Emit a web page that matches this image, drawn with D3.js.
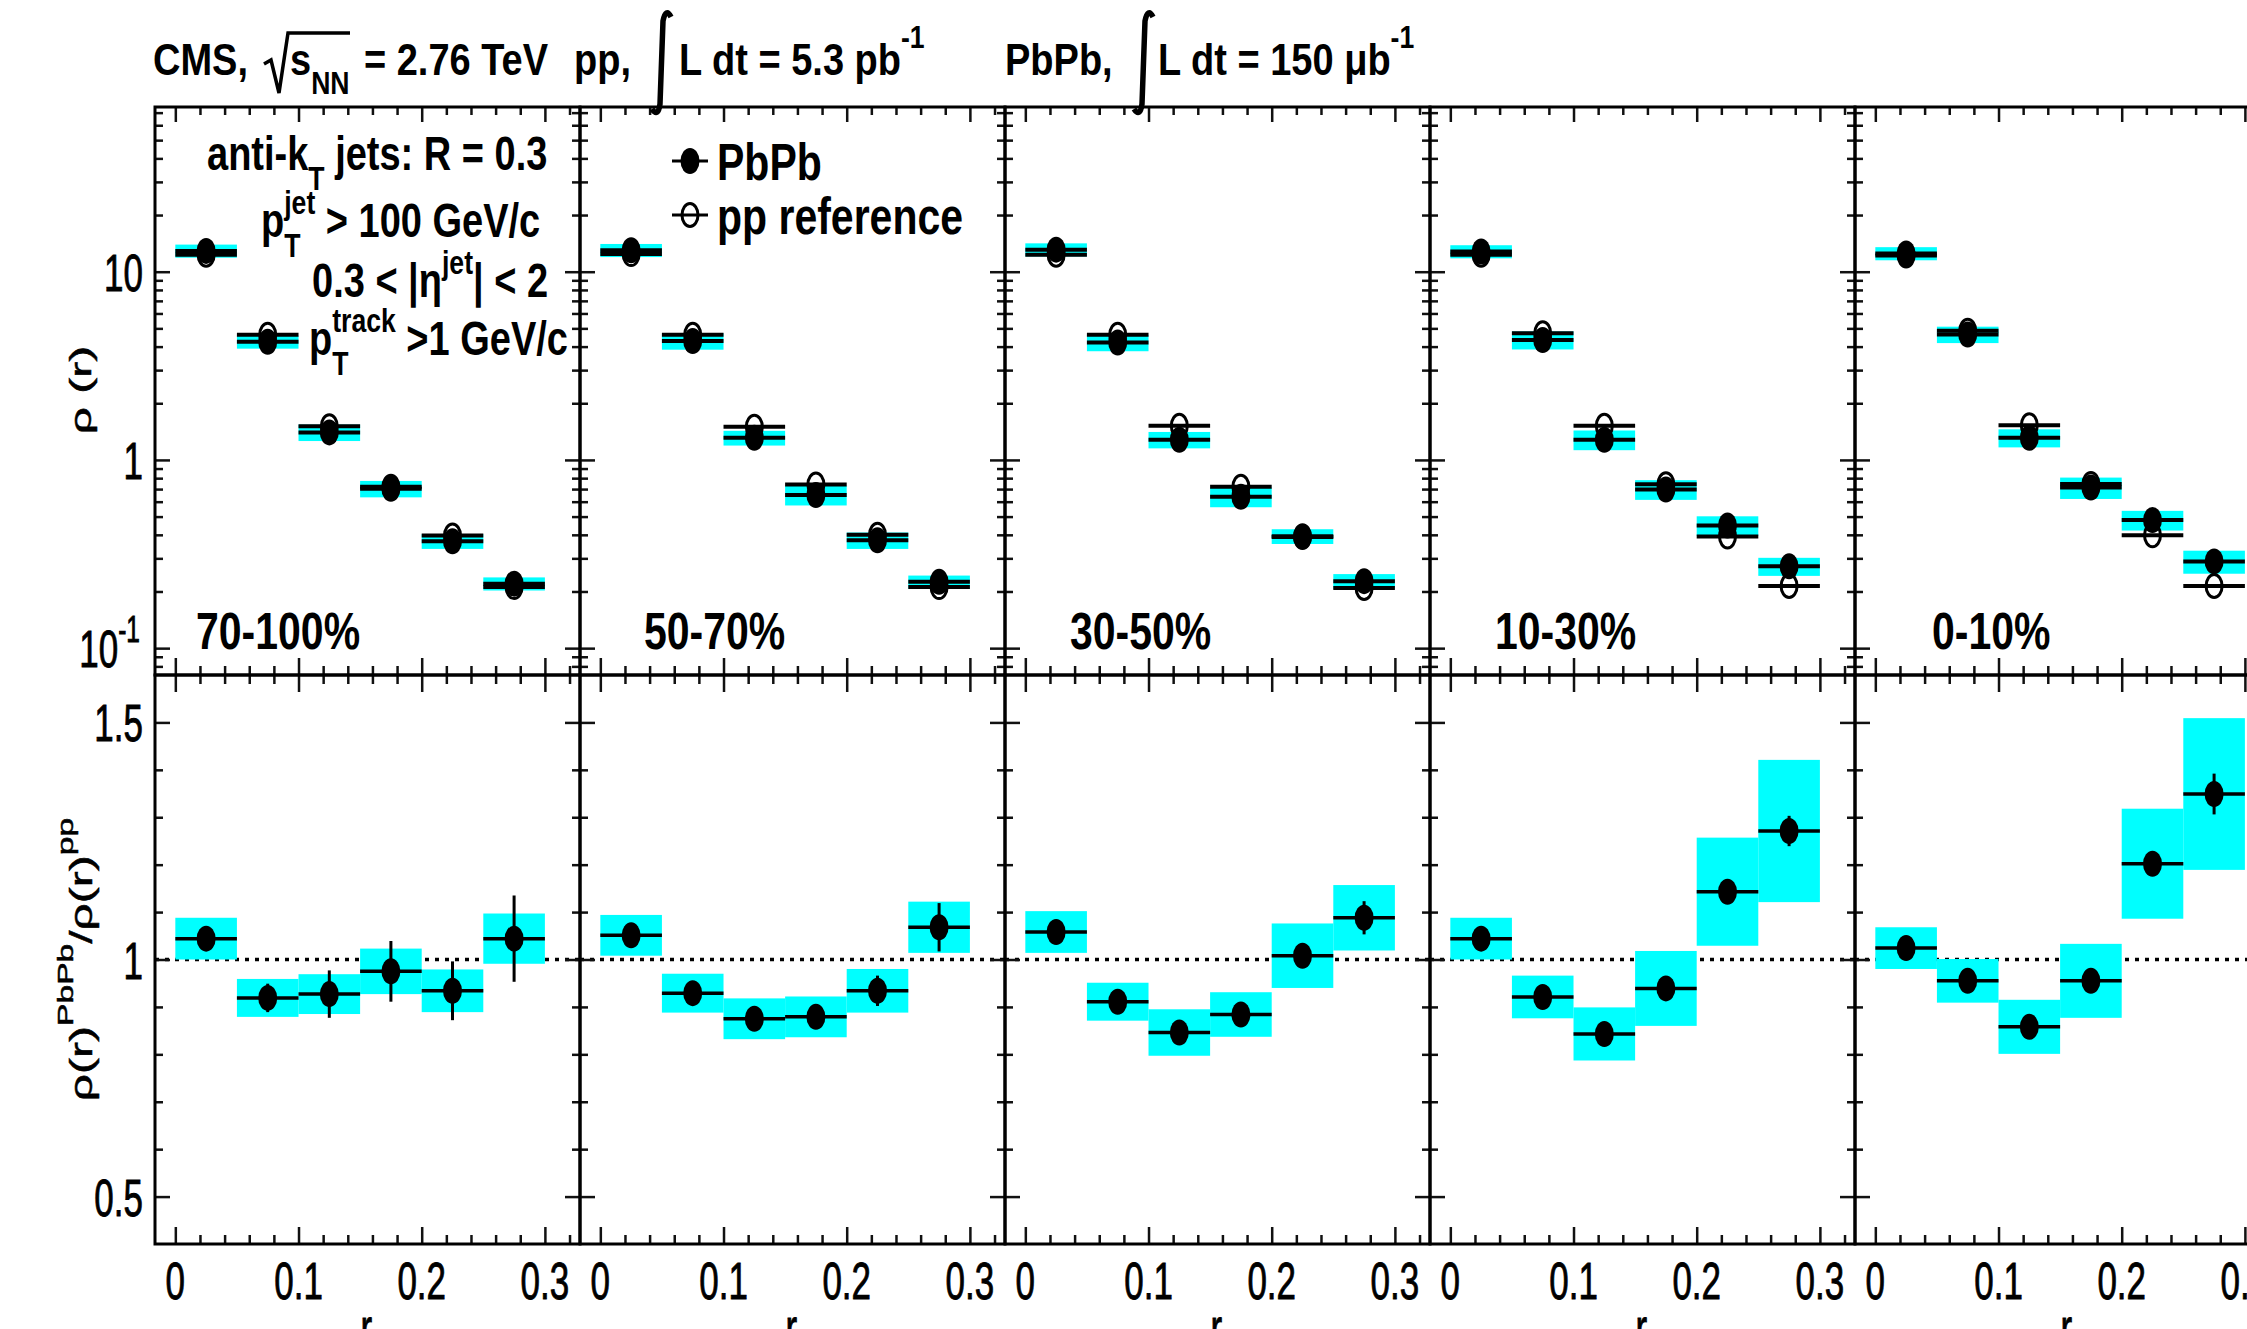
<!DOCTYPE html>
<html>
<head>
<meta charset="utf-8">
<script src="https://cdn.jsdelivr.net/npm/d3@7"></script>
<style>
  body { margin: 0; background: #fff; }
  text { font-family: "Liberation Sans", Arial, Helvetica, sans-serif; fill: #000; }
</style>
</head>
<body>
<svg id="chart"></svg>
<script>
// ---- data ----
var rBins = [0, 0.05, 0.1, 0.15, 0.2, 0.25, 0.3];
var centralityLabels = ['70-100%', '50-70%', '30-50%', '10-30%', '0-10%'];

// rho(r), PbPb (filled) and pp reference (open), one row per centrality
var rhoPbPb = [
  [12.9, 4.24, 1.40, 0.703, 0.370, 0.220],
  [13.0, 4.28, 1.31, 0.651, 0.374, 0.225],
  [13.1, 4.20, 1.28, 0.637, 0.393, 0.227],
  [12.8, 4.34, 1.28, 0.697, 0.448, 0.272],
  [12.5, 4.64, 1.31, 0.713, 0.479, 0.289]
];
var rhoPP = [
  [12.3, 4.62, 1.51, 0.720, 0.397, 0.211],
  [12.4, 4.62, 1.50, 0.740, 0.400, 0.211],
  [12.3, 4.62, 1.52, 0.720, 0.390, 0.209],
  [12.3, 4.71, 1.52, 0.742, 0.392, 0.214],
  [12.2, 4.86, 1.53, 0.746, 0.398, 0.214]
];
// relative systematic of PbPb rho(r)
var rhoSystRel = [
  [0.08, 0.08, 0.10, 0.10, 0.09, 0.08],
  [0.08, 0.10, 0.09, 0.12, 0.10, 0.08],
  [0.08, 0.10, 0.10, 0.12, 0.09, 0.09],
  [0.08, 0.11, 0.12, 0.12, 0.12, 0.11],
  [0.08, 0.10, 0.11, 0.13, 0.12, 0.14]
];

// ratio PbPb / pp
var ratio = [
  [1.044, 0.919, 0.927, 0.975, 0.934, 1.044],
  [1.051, 0.929, 0.875, 0.879, 0.934, 1.068],
  [1.058, 0.911, 0.846, 0.884, 1.008, 1.088],
  [1.044, 0.921, 0.843, 0.939, 1.143, 1.271],
  [1.024, 0.955, 0.858, 0.955, 1.202, 1.349]
];
var ratioStat = [
  [0.010, 0.030, 0.050, 0.064, 0.062, 0.091],
  [0.010, 0.020, 0.020, 0.020, 0.032, 0.051],
  [0.010, 0.010, 0.015, 0.015, 0.020, 0.035],
  [0.010, 0.010, 0.010, 0.015, 0.020, 0.032],
  [0.010, 0.010, 0.010, 0.015, 0.020, 0.043]
];
var ratioSyst = [
  [0.044, 0.040, 0.042, 0.048, 0.045, 0.053],
  [0.043, 0.041, 0.043, 0.043, 0.046, 0.054],
  [0.044, 0.040, 0.049, 0.047, 0.068, 0.069],
  [0.044, 0.045, 0.056, 0.079, 0.114, 0.150],
  [0.044, 0.046, 0.057, 0.078, 0.116, 0.160]
];

var xTicks = [0, 0.1, 0.2, 0.3];
var xTickLabels = ['0', '0.1', '0.2', '0.3'];
var xMinorTicks = [0.02, 0.04, 0.06, 0.08, 0.12, 0.14, 0.16, 0.18, 0.22, 0.24, 0.26, 0.28, 0.32];
var upperTicks = [0.1, 1, 10];
var lowerTicks = [0.5, 1, 1.5];
var lowerTickLabels = ['0.5', '1', '1.5'];
var lowerMinorTicks = [0.6, 0.7, 0.8, 0.9, 1.1, 1.2, 1.3, 1.4];

// ---- layout ----
var W = 2247, H = 1329;
var PANEL_W = 425, LEFT = 155, TOP = 107, MID = 675, BOT = 1244;
var K_REG = 1.5, K_BOLD = 1.26;
var CYAN = '#00ffff';
var labelOffsets = [41, 64, 65, 65, 77];

var upperMinorTicks = [];
[0.01, 0.1, 1, 10].forEach(function(dec) {
  for (var m = 2; m <= 9; m++) {
    var v = m * dec;
    if (v > 0.072 && v < 75) upperMinorTicks.push(v);
  }
});

var svg = d3.select('#chart').attr('width', W).attr('height', H);
svg.append('rect').attr('width', W).attr('height', H).attr('fill', '#fff');

var yUp = d3.scaleLog().domain([0.072, 75]).range([MID, TOP]);
var yLo = d3.scaleLinear().domain([0.4, 1.6]).range([BOT, MID]);

// text with sub/superscripts, stretched vertically like the original
function stretchText(parent, x, y, opt) {
  var tr = 'translate(' + x + ',' + y + ') scale(1,' + opt.k + ')' + (opt.rotate ? ' rotate(-90)' : '');
  var g = parent.append('g').attr('transform', tr);
  var t = g.append('text')
    .attr('font-size', opt.size)
    .attr('font-weight', opt.bold ? 'bold' : 'normal')
    .attr('text-anchor', opt.anchor || 'start');
  if (opt.heavy) t.attr('stroke', '#000').attr('stroke-width', opt.heavy);
  var cur = 0, prevW = 0, carry = 0;
  opt.parts.forEach(function(p) {
    if (typeof p === 'string') p = { t: p };
    var off = p.sup ? -opt.size * (opt.supRaise || 0.47) : (p.sub ? opt.size * 0.42 : 0);
    var ts = t.append('tspan').attr('dy', off - cur).text(p.t);
    if (p.sup || p.sub) ts.attr('font-size', opt.size * 0.7);
    if (p.back) ts.attr('dx', -prevW);
    else if (carry) { ts.attr('dx', carry); carry = 0; }
    var w = ts.node().getComputedTextLength();
    if (p.back) carry = Math.max(0, prevW - w);
    prevW = w;
    cur = off;
  });
  return t;
}

function tickAxis(g, axis, values, size) {
  var a = g.append('g').call(axis.tickValues(values).tickSize(size).tickFormat(''));
  a.select('.domain').remove();
  a.selectAll('.tick line').attr('stroke', '#111').attr('stroke-width', 2.5);
  return a;
}

centralityLabels.forEach(function(cent, p) {
  var x0 = LEFT + p * PANEL_W;
  var xs = d3.scaleLinear().domain([-0.0165, 0.3285]).range([x0, x0 + PANEL_W]);
  var panel = svg.append('g').attr('class', 'panel');
  var bins = rBins.slice(0, -1).map(function(lo, j) { return { lo: lo, hi: rBins[j + 1], j: j }; });

  // ---- upper pad: rho(r) ----
  var up = panel.append('g');
  up.selectAll('.syst').data(bins).enter().append('rect')
    .attr('x', function(d) { return xs(d.lo); })
    .attr('width', function(d) { return xs(d.hi) - xs(d.lo); })
    .attr('y', function(d) { return yUp(rhoPbPb[p][d.j] * (1 + rhoSystRel[p][d.j])); })
    .attr('height', function(d) {
      var v = rhoPbPb[p][d.j], f = rhoSystRel[p][d.j];
      return yUp(v * (1 - f)) - yUp(v * (1 + f));
    })
    .attr('fill', CYAN);

  up.selectAll('.ppbar').data(bins).enter().append('line')
    .attr('x1', function(d) { return xs(d.lo); })
    .attr('x2', function(d) { return xs(d.hi); })
    .attr('y1', function(d) { return yUp(rhoPP[p][d.j]); })
    .attr('y2', function(d) { return yUp(rhoPP[p][d.j]); })
    .attr('stroke', '#000').attr('stroke-width', 4);
  up.selectAll('.ppmark').data(bins).enter().append('ellipse')
    .attr('cx', function(d) { return xs((d.lo + d.hi) / 2); })
    .attr('cy', function(d) { return yUp(rhoPP[p][d.j]); })
    .attr('rx', 8).attr('ry', 11.5)
    .attr('fill', 'none').attr('stroke', '#000').attr('stroke-width', 3);

  up.selectAll('.pbbar').data(bins).enter().append('line')
    .attr('x1', function(d) { return xs(d.lo); })
    .attr('x2', function(d) { return xs(d.hi); })
    .attr('y1', function(d) { return yUp(rhoPbPb[p][d.j]); })
    .attr('y2', function(d) { return yUp(rhoPbPb[p][d.j]); })
    .attr('stroke', '#000').attr('stroke-width', 4);
  up.selectAll('.pbmark').data(bins).enter().append('ellipse')
    .attr('cx', function(d) { return xs((d.lo + d.hi) / 2); })
    .attr('cy', function(d) { return yUp(rhoPbPb[p][d.j]); })
    .attr('rx', 9.5).attr('ry', 13)
    .attr('fill', '#000');

  // ---- lower pad: ratio ----
  var lo = panel.append('g');
  lo.append('line')
    .attr('x1', xs(-0.0165)).attr('x2', xs(0.3285))
    .attr('y1', yLo(1)).attr('y2', yLo(1))
    .attr('stroke', '#000').attr('stroke-width', 3.5).attr('stroke-dasharray', '4,6');
  lo.selectAll('.rsyst').data(bins).enter().append('rect')
    .attr('x', function(d) { return xs(d.lo); })
    .attr('width', function(d) { return xs(d.hi) - xs(d.lo); })
    .attr('y', function(d) { return yLo(ratio[p][d.j] + ratioSyst[p][d.j]); })
    .attr('height', function(d) { return yLo(ratio[p][d.j] - ratioSyst[p][d.j]) - yLo(ratio[p][d.j] + ratioSyst[p][d.j]); })
    .attr('fill', CYAN);
  lo.selectAll('.rbar').data(bins).enter().append('line')
    .attr('x1', function(d) { return xs(d.lo); })
    .attr('x2', function(d) { return xs(d.hi); })
    .attr('y1', function(d) { return yLo(ratio[p][d.j]); })
    .attr('y2', function(d) { return yLo(ratio[p][d.j]); })
    .attr('stroke', '#000').attr('stroke-width', 3.5);
  lo.selectAll('.rstat').data(bins).enter().append('line')
    .attr('x1', function(d) { return xs((d.lo + d.hi) / 2); })
    .attr('x2', function(d) { return xs((d.lo + d.hi) / 2); })
    .attr('y1', function(d) { return yLo(ratio[p][d.j] - ratioStat[p][d.j]); })
    .attr('y2', function(d) { return yLo(ratio[p][d.j] + ratioStat[p][d.j]); })
    .attr('stroke', '#000').attr('stroke-width', 3);
  lo.selectAll('.rmark').data(bins).enter().append('ellipse')
    .attr('cx', function(d) { return xs((d.lo + d.hi) / 2); })
    .attr('cy', function(d) { return yLo(ratio[p][d.j]); })
    .attr('rx', 9.5).attr('ry', 13)
    .attr('fill', '#000');

  // ---- ticks on every side ----
  var ax = panel.append('g');
  tickAxis(ax.append('g').attr('transform', 'translate(0,' + TOP + ')'), d3.axisBottom(xs), xTicks, 15);
  tickAxis(ax.append('g').attr('transform', 'translate(0,' + TOP + ')'), d3.axisBottom(xs), xMinorTicks, 8);
  [MID, BOT].forEach(function(yy) {
    tickAxis(ax.append('g').attr('transform', 'translate(0,' + yy + ')'), d3.axisTop(xs), xTicks, 17);
    tickAxis(ax.append('g').attr('transform', 'translate(0,' + yy + ')'), d3.axisTop(xs), xMinorTicks, 9);
  });
  tickAxis(ax.append('g').attr('transform', 'translate(0,' + MID + ')'), d3.axisBottom(xs), xTicks, 17);
  tickAxis(ax.append('g').attr('transform', 'translate(0,' + MID + ')'), d3.axisBottom(xs), xMinorTicks, 9);

  var gl = ax.append('g').attr('transform', 'translate(' + x0 + ',0)');
  var gr = ax.append('g').attr('transform', 'translate(' + (x0 + PANEL_W) + ',0)');
  tickAxis(gl, d3.axisRight(yUp), upperTicks, 15);
  tickAxis(gl, d3.axisRight(yUp), upperMinorTicks, 8);
  tickAxis(gr, d3.axisLeft(yUp), upperTicks, 15);
  tickAxis(gr, d3.axisLeft(yUp), upperMinorTicks, 8);
  tickAxis(gl, d3.axisRight(yLo), lowerTicks, 15);
  tickAxis(gl, d3.axisRight(yLo), lowerMinorTicks, 8);
  tickAxis(gr, d3.axisLeft(yLo), lowerTicks, 15);
  tickAxis(gr, d3.axisLeft(yLo), lowerMinorTicks, 8);

  // frames
  panel.append('rect').attr('x', x0).attr('y', TOP).attr('width', PANEL_W).attr('height', MID - TOP)
    .attr('fill', 'none').attr('stroke', '#000').attr('stroke-width', 3);
  panel.append('rect').attr('x', x0).attr('y', MID).attr('width', PANEL_W).attr('height', BOT - MID)
    .attr('fill', 'none').attr('stroke', '#000').attr('stroke-width', 3);

  // x tick labels and title
  xTicks.forEach(function(v, i) {
    stretchText(panel, xs(v), 1299, { size: 35, k: K_REG, anchor: 'middle', heavy: 0.6, parts: [xTickLabels[i]] });
  });
  stretchText(panel, xs(0.155), 1346, { size: 35, k: K_REG, anchor: 'middle', heavy: 0.6, parts: ['r'] });

  // centrality label
  stretchText(panel, x0 + labelOffsets[p], 649, { size: 41, k: K_BOLD, bold: true, parts: [cent] });
});

// ---- y axis labels (first panel) ----
upperTicks.forEach(function(v) {
  var parts = v === 0.1 ? ['10', { t: '-1', sup: true }] : [String(v)];
  stretchText(svg, v === 0.1 ? 140 : 143, yUp(v) + 19, { size: 35, k: K_REG, anchor: 'end', heavy: 0.6, parts: parts });
});
lowerTicks.forEach(function(v, i) {
  stretchText(svg, 143, yLo(v) + 19, { size: 35, k: K_REG, anchor: 'end', heavy: 0.6, parts: [lowerTickLabels[i]] });
});
stretchText(svg, 91, 390, { size: 30, k: 1.6, rotate: true, anchor: 'middle', heavy: 0.5, parts: ['\u03c1 (r)'] });
stretchText(svg, 92, yLo(1), {
  size: 32, k: 1.5, rotate: true, anchor: 'middle', supRaise: 0.6, heavy: 0.5,
  parts: ['\u03c1(r)', { t: 'PbPb', sup: true }, '/\u03c1(r)', { t: 'pp', sup: true }]
});

// ---- header ----
var hdr = svg.append('g');
var HK = 1.18, HS = 38, HB = 75;
stretchText(hdr, 153, HB, { size: HS, k: HK, bold: true, parts: ['CMS,'] });
hdr.append('path').attr('d', 'M 264 64 L 271 60 L 279 93 L 288 33 L 350 33')
  .attr('fill', 'none').attr('stroke', '#000').attr('stroke-width', 3.5);
stretchText(hdr, 290, HB, { size: HS, k: HK, bold: true, parts: ['s', { t: 'NN', sub: true }] });
stretchText(hdr, 364, HB, { size: HS, k: HK, bold: true, parts: ['= 2.76 TeV'] });
stretchText(hdr, 574, HB, { size: HS, k: HK, bold: true, parts: ['pp,'] });
stretchText(hdr, 679, HB, { size: HS, k: HK, bold: true, supRaise: 0.6, parts: ['L dt = 5.3 pb', { t: '-1', sup: true }] });
stretchText(hdr, 1005, HB, { size: HS, k: HK, bold: true, parts: ['PbPb,'] });
stretchText(hdr, 1158, HB, { size: HS, k: HK, bold: true, supRaise: 0.6, parts: ['L dt = 150 \u03bcb', { t: '-1', sup: true }] });
[0, 482].forEach(function(dx) {
  hdr.append('path')
    .attr('d', 'M 671 17 Q 666 7 663 21 L 660 104 Q 658 118 652 109')
    .attr('transform', 'translate(' + dx + ',0)')
    .attr('fill', 'none').attr('stroke', '#000').attr('stroke-width', 5.5);
});

// ---- annotations in the first panel ----
var ann = svg.append('g');
var AS = 38;
stretchText(ann, 207, 170, { size: AS, k: K_BOLD, bold: true, parts: ['anti-k', { t: 'T', sub: true }, ' jets: R = 0.3'] });
stretchText(ann, 261, 237, { size: AS, k: K_BOLD, bold: true, parts: ['p', { t: 'jet', sup: true }, { t: 'T', sub: true, back: true }, ' > 100 GeV/c'] });
stretchText(ann, 312, 297, { size: AS, k: K_BOLD, bold: true, parts: ['0.3 < |\u03b7', { t: 'jet', sup: true }, '| < 2'] });
stretchText(ann, 309, 355, { size: AS, k: K_BOLD, bold: true, parts: ['p', { t: 'track', sup: true }, { t: 'T', sub: true, back: true }, ' >1 GeV/c'] });

// ---- legend in the second panel ----
var leg = svg.append('g');
var legendRows = [{ label: 'PbPb', filled: true, y: 161 }, { label: 'pp reference', filled: false, y: 215 }];
legendRows.forEach(function(row) {
  leg.append('line').attr('x1', 672).attr('x2', 708).attr('y1', row.y).attr('y2', row.y)
    .attr('stroke', '#000').attr('stroke-width', 3);
  leg.append('ellipse').attr('cx', 690).attr('cy', row.y).attr('rx', row.filled ? 9.5 : 8).attr('ry', row.filled ? 13 : 11.5)
    .attr('fill', row.filled ? '#000' : 'none').attr('stroke', '#000').attr('stroke-width', row.filled ? 0 : 3);
  stretchText(leg, 717, row.y + 19, { size: 41, k: K_BOLD, bold: true, parts: [row.label] });
});
</script>
</body>
</html>
